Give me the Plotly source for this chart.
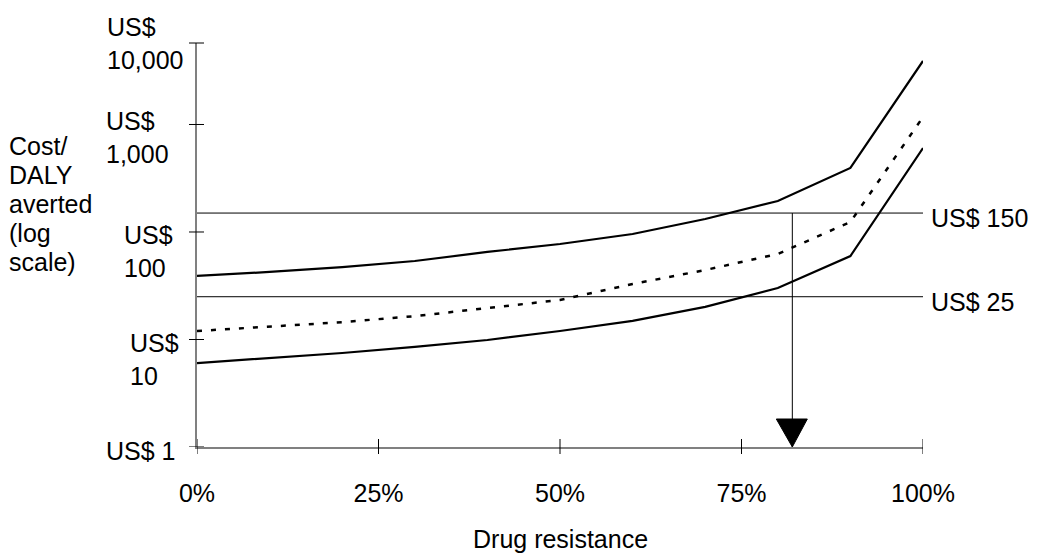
import numpy as np
import plotly.graph_objects as go

# ---- data ----
resistance = [0, 10, 20, 30, 40, 50, 60, 70, 80, 90, 100]          # % drug resistance
cost_upper = [39, 42.5, 47.2, 53.7, 65.2, 77.3, 95.8, 132, 194, 394, 3900]
cost_mid   = [12.0, 13.1, 14.5, 16.5, 19.6, 23.3, 32.8, 44.3, 62.4, 124, 1174]
cost_lower = [6.04, 6.73, 7.49, 8.52, 9.89, 12.0, 14.9, 20.1, 30.1, 59.8, 604]

thresholds = [150, 25]
threshold_labels = ["US$ 150", "US$ 25"]
arrow_resistance = 82

x_tickvals = [0, 25, 50, 75, 100]
x_ticktext = ["0%", "25%", "50%", "75%", "100%"]
y_tickvals = [1, 10, 100, 1000]
y_ticklabels = ["US$ 1", "US$<br>10", "US$<br>100", "US$<br>1,000"]
y_top_label = "US$<br>10,000"
y_title_lines = ["Cost/", "DALY", "averted", "(log", "scale)"]
x_title = "Drug resistance"

FONT = "Liberation Sans, Arial, sans-serif"
FS = 25

fig = go.Figure()

# threshold lines
for t in thresholds:
    fig.add_trace(go.Scatter(x=[0, 100], y=[t, t], mode="lines",
                             line=dict(color="black", width=1), hoverinfo="skip"))

# vertical arrow line
fig.add_trace(go.Scatter(x=[arrow_resistance, arrow_resistance], y=[thresholds[0], 1],
                         mode="lines", line=dict(color="black", width=1), hoverinfo="skip"))

# curves
fig.add_trace(go.Scatter(x=resistance, y=cost_upper, mode="lines",
                         line=dict(color="black", width=2.2), cliponaxis=False))
fig.add_trace(go.Scatter(x=resistance, y=cost_mid, mode="lines",
                         line=dict(color="black", width=2.5, dash="5px,9px"), cliponaxis=False))
fig.add_trace(go.Scatter(x=resistance, y=cost_lower, mode="lines",
                         line=dict(color="black", width=2.2), cliponaxis=False))

shapes = []
# x tick marks crossing the axis
for v in x_tickvals:
    shapes.append(dict(type="line", xref="x", yref="paper", x0=v, x1=v,
                       ysizemode="pixel", yanchor=0, y0=-7, y1=8,
                       line=dict(color="black", width=1)))
# y tick marks crossing the axis
for v in y_tickvals:
    shapes.append(dict(type="line", xref="paper", yref="y", y0=v, y1=v,
                       xsizemode="pixel", xanchor=0, x0=-8, x1=7,
                       line=dict(color="black", width=1)))
# top tick
shapes.append(dict(type="line", xref="paper", yref="paper", y0=1, y1=1,
                   xsizemode="pixel", xanchor=0, x0=-8, x1=7,
                   line=dict(color="black", width=1)))
# arrow head
shapes.append(dict(type="path", xref="x", yref="paper", xsizemode="pixel", ysizemode="pixel",
                   xanchor=arrow_resistance, yanchor=0,
                   path="M-16,28 L15,28 L0,0 Z", fillcolor="black",
                   line=dict(color="black", width=1)))

annotations = []
# y tick labels (left aligned, below/at ticks)
y_label_pos = [(-93, -4), (-69, -20), (-75, -20), (-93, -13)]
for v, txt, (xs, ys) in zip(y_tickvals, y_ticklabels, y_label_pos):
    annotations.append(dict(xref="paper", yref="y", x=0, y=np.log10(v), text=txt,
                            showarrow=False, xanchor="left", yanchor="middle", align="left",
                            xshift=xs, yshift=ys, font=dict(family=FONT, size=FS, color="black")))
annotations.append(dict(xref="paper", yref="paper", x=0, y=1, text=y_top_label,
                        showarrow=False, xanchor="left", yanchor="middle", align="left",
                        xshift=-92, yshift=0, font=dict(family=FONT, size=FS, color="black")))
# y title lines
title_y_px = [146, 175, 204, 233, 262]
for line, py in zip(y_title_lines, title_y_px):
    annotations.append(dict(xref="paper", yref="paper", x=0, y=(447 - py) / 404, text=line,
                            showarrow=False, xanchor="left", yanchor="middle",
                            xshift=-190, font=dict(family=FONT, size=FS, color="black")))
# threshold labels
for t, lab in zip(thresholds, threshold_labels):
    annotations.append(dict(xref="paper", yref="y", x=1, y=np.log10(t), text=lab,
                            showarrow=False, xanchor="left", yanchor="middle",
                            xshift=6, yshift=-5, font=dict(family=FONT, size=FS, color="black")))
# x title
annotations.append(dict(xref="paper", yref="paper", x=0.5, y=0, text=x_title, showarrow=False,
                        xanchor="center", yanchor="middle", yshift=-92,
                        font=dict(family=FONT, size=FS, color="black")))

fig.update_layout(
    width=1034, height=546,
    margin=dict(l=189, r=119, t=35, b=107),
    paper_bgcolor="white", plot_bgcolor="white",
    showlegend=False,
    shapes=shapes, annotations=annotations,
    font=dict(family=FONT, size=FS, color="black"),
    xaxis=dict(range=[0, 100], showgrid=False, zeroline=False, showline=True,
               linecolor="#808080", linewidth=2, ticks="",
               tickvals=x_tickvals, ticktext=x_ticktext, ticklabelstandoff=23,
               tickfont=dict(family=FONT, size=FS, color="black")),
    yaxis=dict(type="log", range=[0, 3.758], showgrid=False, zeroline=False, showline=True,
               linecolor="#808080", linewidth=2, ticks="", showticklabels=False),
)

fig.write_html("out.html")
